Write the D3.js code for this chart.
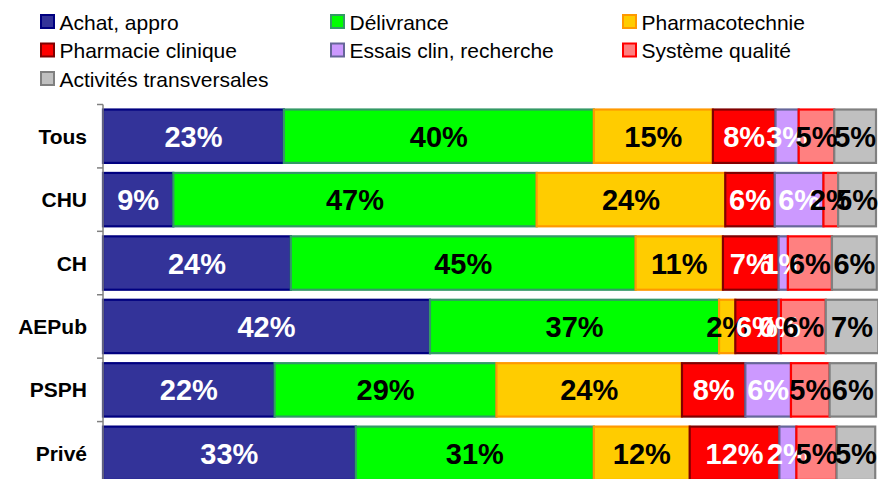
<!DOCTYPE html>
<html>
<head>
<meta charset="utf-8">
<script src="https://cdn.jsdelivr.net/npm/d3@7"></script>
<style>
  html, body { margin: 0; padding: 0; background: #fff; }
  svg { display: block; font-family: Arial, "Liberation Sans", sans-serif; }
</style>
</head>
<body>
<svg id="chart" width="878" height="479"></svg>
<script>
const categories = ["Tous", "CHU", "CH", "AEPub", "PSPH", "Privé"];
const seriesNames = ["Achat, appro", "Délivrance", "Pharmacotechnie", "Pharmacie clinique",
                     "Essais clin, recherche", "Système qualité", "Activités transversales"];
const achat       = [23.4,  9.1, 24.3, 42.3, 22.2, 32.7];
const delivrance  = [40.1, 47.0, 44.6, 37.4, 28.7, 30.8];
const pharmacotec = [15.4, 24.4, 11.3,  2.1, 24.0, 12.4];
const clinique    = [ 8.1,  6.4,  7.2,  5.6,  8.2, 11.6];
const essais      = [ 3.0,  6.3,  1.2,  0.3,  5.9,  2.2];
const qualite     = [ 4.6,  1.9,  5.7,  5.8,  5.0,  5.2];
const transv      = [ 5.4,  4.9,  5.8,  6.8,  6.0,  5.0];
const fills   = ["#333399", "#00FF00", "#FFCC00", "#FF0000", "#CC99FF", "#FF8080", "#C0C0C0"];
const strokes = ["#000080", "#339966", "#FF9900", "#800000", "#666699", "#FF0000", "#808080"];
const labelColors = ["#fff", "#000", "#000", "#fff", "#fff", "#000", "#000"];

const seriesValues = [achat, delivrance, pharmacotec, clinique, essais, qualite, transv];
const rows = categories.map((c, i) => {
  const o = { cat: c };
  seriesNames.forEach((s, j) => o[s] = seriesValues[j][i]);
  return o;
});
const stacked = d3.stack().keys(seriesNames)(rows);

const svg = d3.select("#chart");
const x = d3.scaleLinear().domain([0, 100]).range([103, 876]);
const y = d3.scaleBand().domain(categories).range([104.5, 485]).paddingInner(0.158).paddingOuter(0.079);

// bars
const g = svg.append("g");
stacked.forEach((layer, j) => {
  g.selectAll(null).data(layer).enter().append("rect")
    .attr("x", d => x(d[0]))
    .attr("y", (d, i) => y(categories[i]))
    .attr("width", d => Math.max(0, x(d[1]) - x(d[0])))
    .attr("height", y.bandwidth())
    .attr("fill", fills[j])
    .attr("stroke", strokes[j])
    .attr("stroke-width", 2.2);
});

// labels
stacked.forEach((layer, j) => {
  g.selectAll(null).data(layer).enter().append("text")
    .attr("x", d => (x(d[0]) + x(d[1])) / 2)
    .attr("y", (d, i) => y(categories[i]) + y.bandwidth() / 2 + 10.5)
    .attr("text-anchor", "middle")
    .attr("font-size", 29)
    .attr("font-weight", "bold")
    .attr("fill", labelColors[j])
    .text(d => Math.round(d[1] - d[0]) + "%");
});

// axis
const axisColor = "#808080";
const step = y.step();
const r = y.range();
svg.append("line").attr("x1", 103).attr("x2", 103).attr("y1", r[0]).attr("y2", r[1])
  .attr("stroke", axisColor).attr("stroke-width", 1.5);
d3.range(categories.length + 1).forEach(k => {
  const yy = r[0] + k * step;
  svg.append("line").attr("x1", 97).attr("x2", 103).attr("y1", yy).attr("y2", yy)
    .attr("stroke", axisColor).attr("stroke-width", 1.5);
});
const ax = svg.append("g").attr("transform", "translate(87,0)")
  .call(d3.axisLeft(y).tickSize(0).tickPadding(0));
ax.select(".domain").remove();
ax.selectAll("text")
  .attr("font-family", "Arial, 'Liberation Sans', sans-serif")
  .attr("font-size", 21).attr("font-weight", "bold").attr("fill", "#000")
  .attr("dy", null).attr("y", 7.5);

// legend
const colX = [40, 330, 622];
const rowY = [14, 42.5, 71];
seriesNames.forEach((s, j) => {
  const lx = colX[j % 3], ly = rowY[Math.floor(j / 3)];
  svg.append("rect").attr("x", lx + 1).attr("y", ly + 1).attr("width", 13).attr("height", 13)
    .attr("fill", fills[j]).attr("stroke", strokes[j]).attr("stroke-width", 2);
  svg.append("text").attr("x", lx + 19.5).attr("y", ly + 15.5)
    .attr("font-size", 21).attr("fill", "#000").text(s);
});
</script>
</body>
</html>
